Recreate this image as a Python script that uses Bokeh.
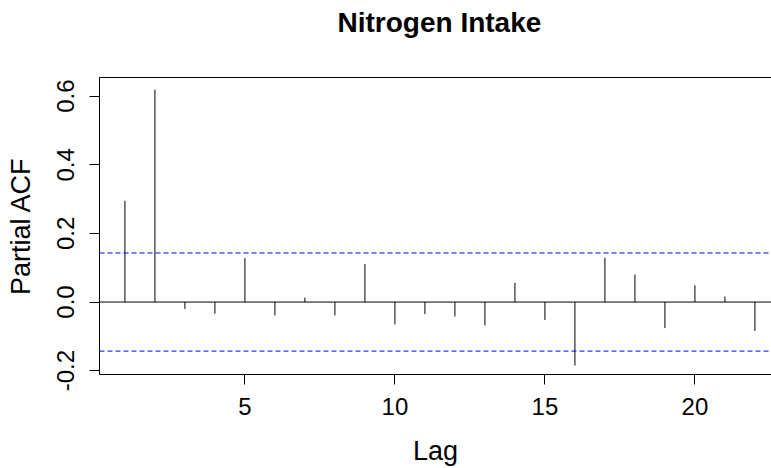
from bokeh.plotting import figure
from bokeh.models import (Range1d, FixedTicker, LinearAxis, Span, Title,
                          PrintfTickFormatter, ColumnDataSource)
from bokeh.embed import file_html
from bokeh.resources import INLINE

# ---- data ----
title_text = "Nitrogen Intake"
x_label = "Lag"
y_label = "Partial ACF"
lags = list(range(1, 23))
pacf = [0.295, 0.619, -0.020, -0.034, 0.128, -0.039, 0.013, -0.039, 0.111,
        -0.065, -0.035, -0.042, -0.068, 0.056, -0.052, -0.185, 0.129, 0.080,
        -0.076, 0.049, 0.016, -0.084]
conf_limit = 0.143
x_ticks = [5, 10, 15, 20]
y_ticks = [-0.2, 0.0, 0.2, 0.4, 0.6]

FONT = "Liberation Sans"

p = figure(width=771, height=468, output_backend="svg", toolbar_location=None,
           x_range=Range1d(0.153, 22.553), y_range=Range1d(-0.2112, 0.6544),
           min_border_left=99, min_border_right=0, min_border_top=77,
           min_border_bottom=93)
p.outline_line_color = None
p.grid.visible = False
p.background_fill_color = "white"
p.border_fill_color = "white"

# axes
for ax in (p.xaxis[0], p.yaxis[0]):
    ax.axis_line_color = "black"
    ax.axis_line_width = 1
    ax.major_tick_line_color = "black"
    ax.major_tick_out = 10
    ax.major_tick_in = 0
    ax.minor_tick_line_color = None
    ax.major_label_text_font = FONT
    ax.major_label_text_font_size = "24px"
    ax.major_label_text_color = "black"
    ax.axis_label_text_font = FONT
    ax.axis_label_text_font_size = "27px"
    ax.axis_label_text_font_style = "normal"
    ax.axis_label_text_color = "black"

p.xaxis.ticker = FixedTicker(ticks=x_ticks)
p.xaxis.formatter = PrintfTickFormatter(format="%d")
p.xaxis.major_label_standoff = 13
p.xaxis.axis_label = x_label
p.xaxis.axis_label_standoff = 18

p.yaxis.ticker = FixedTicker(ticks=y_ticks)
p.yaxis.formatter = PrintfTickFormatter(format="%.1f")
p.yaxis.major_label_orientation = "vertical"
p.yaxis.major_label_standoff = 15
p.yaxis.axis_label = y_label
p.yaxis.axis_label_standoff = 19

top_axis = LinearAxis(ticker=FixedTicker(ticks=[]), major_label_text_font_size="0px",
                      major_tick_line_color=None, minor_tick_line_color=None,
                      major_tick_out=0, major_tick_in=0, major_label_standoff=0,
                      axis_line_color="black")
p.add_layout(top_axis, "above")

# blank spacer panel between the frame and the title
p.add_layout(Title(text=" ", text_font=FONT, text_font_size="28px",
                   standoff=5.4), "above")
p.add_layout(Title(text=title_text, align="left", vertical_align="top",
                   text_font=FONT, text_font_size="28px", text_font_style="bold",
                   text_color="black", standoff=0, offset=238), "above")

# reference lines
p.add_layout(Span(location=0, dimension="width", line_color="black", line_width=1))
for c in (conf_limit, -conf_limit):
    p.add_layout(Span(location=c, dimension="width", line_color="#0000ff",
                      line_width=1, line_dash="5 3"))

# spikes
src = ColumnDataSource(dict(lag=lags, pacf=pacf, zero=[0] * len(lags)))
p.segment(x0="lag", y0="zero", x1="lag", y1="pacf", source=src,
          line_color="black", line_width=1)

open("out.html", "w").write(file_html(p, INLINE))
